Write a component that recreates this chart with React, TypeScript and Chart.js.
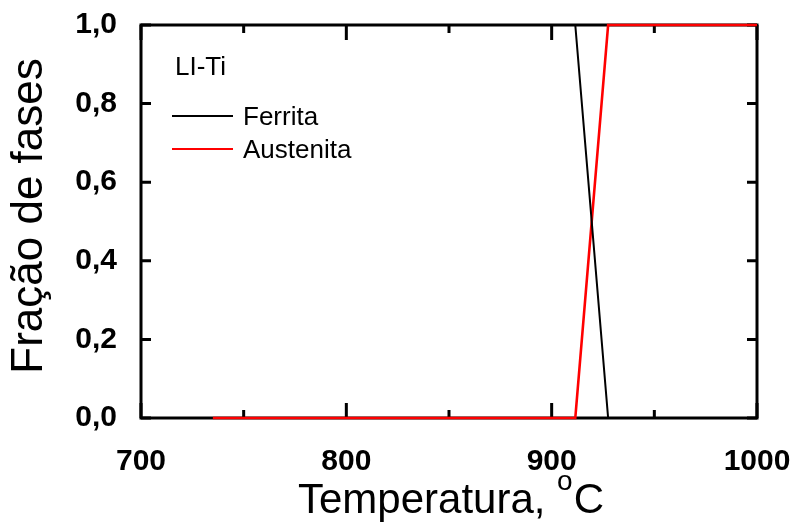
import React, { useEffect, useRef } from "react";
import { Chart, registerables } from "chart.js";

Chart.register(...registerables);

// ---- data ----
const temperatures = [735, 911.5, 927.5, 1000];
const ferrita = [1, 1, 0, 0];
const austenita = [0, 0, 1, 1];
const xMajorTicks = [700, 800, 900, 1000];
const xMinorTicks = [750, 850, 950];
const yMajorTicks = [0, 0.2, 0.4, 0.6, 0.8, 1.0];
const legendTitle = "LI-Ti";
const seriesLabels = ["Ferrita", "Austenita"];
const seriesColors = ["#000000", "#ff0000"];
const seriesWidths = [2, 2.6];
const xTitleMain = "Temperatura, ";
const xTitleSup = "o";
const xTitleUnit = "C";
const yTitle = "Fração de fases";

const FONT = '"Liberation Sans", Arial, Helvetica, sans-serif';

const zeroPad = (s: any) => {
  s.paddingLeft = 0;
  s.paddingRight = 0;
  s.paddingTop = 0;
  s.paddingBottom = 0;
};

const framePlugin = {
  id: "frame",
  beforeDatasetsDraw(chart: any) {
    const { ctx, chartArea: a, scales } = chart;
    const x = scales.x;
    const y = scales.y;
    ctx.save();
    ctx.strokeStyle = "#000";
    ctx.lineWidth = 3;
    ctx.lineJoin = "miter";
    ctx.lineCap = "butt";
    ctx.strokeRect(a.left, a.top, a.right - a.left, a.bottom - a.top);
    ctx.beginPath();
    for (const v of xMajorTicks) {
      const px = x.getPixelForValue(v);
      ctx.moveTo(px, a.bottom);
      ctx.lineTo(px, a.bottom - 15);
      ctx.moveTo(px, a.top);
      ctx.lineTo(px, a.top + 15);
    }
    for (const v of xMinorTicks) {
      const px = x.getPixelForValue(v);
      ctx.moveTo(px, a.bottom);
      ctx.lineTo(px, a.bottom - 8);
      ctx.moveTo(px, a.top);
      ctx.lineTo(px, a.top + 8);
    }
    for (const v of yMajorTicks) {
      const py = y.getPixelForValue(v);
      ctx.moveTo(a.left, py);
      ctx.lineTo(a.left + 10, py);
      ctx.moveTo(a.right, py);
      ctx.lineTo(a.right - 10, py);
    }
    ctx.stroke();
    ctx.restore();
  },
  afterDraw(chart: any) {
    const { ctx } = chart;
    ctx.save();
    ctx.fillStyle = "#000";
    ctx.textBaseline = "alphabetic";
    // x title with superscript
    const mainFont = `42px ${FONT}`;
    const supFont = `28px ${FONT}`;
    ctx.font = mainFont;
    const wMain = ctx.measureText(xTitleMain).width;
    const wUnit = ctx.measureText(xTitleUnit).width;
    ctx.font = supFont;
    const wSup = ctx.measureText(xTitleSup).width;
    const total = wMain + wSup + 1 + wUnit;
    const cx = 451;
    let tx = cx - total / 2;
    const base = 513;
    ctx.font = mainFont;
    ctx.textAlign = "left";
    ctx.fillText(xTitleMain, tx, base);
    tx += wMain;
    ctx.font = supFont;
    ctx.fillText(xTitleSup, tx, base - 23);
    tx += wSup + 1;
    ctx.font = mainFont;
    ctx.fillText(xTitleUnit, tx, base);

    // y title
    ctx.save();
    ctx.translate(42, 216);
    ctx.rotate(-Math.PI / 2);
    ctx.font = `44px ${FONT}`;
    ctx.textAlign = "center";
    ctx.fillText(yTitle, 0, 0);
    ctx.restore();

    // legend
    ctx.font = `26px ${FONT}`;
    ctx.textAlign = "left";
    ctx.fillText(legendTitle, 175, 75);
    const rows = [116, 149];
    chart.data.datasets.forEach((ds: any, i: number) => {
      const ly = rows[i];
      ctx.strokeStyle = ds.borderColor;
      ctx.lineWidth = 2;
      ctx.beginPath();
      ctx.moveTo(172, ly);
      ctx.lineTo(233, ly);
      ctx.stroke();
      ctx.fillText(ds.label, 243, ly + 9);
    });
    ctx.restore();
  },
};

export default function App() {
  const ref = useRef<HTMLCanvasElement | null>(null);
  useEffect(() => {
    if (!ref.current) return;
    const chart = new Chart(ref.current, {
      type: "scatter",
      data: {
        datasets: [
          {
            label: seriesLabels[0],
            data: temperatures.map((t, i) => ({ x: t, y: ferrita[i] })),
            showLine: true,
            borderColor: seriesColors[0],
            backgroundColor: seriesColors[0],
            borderWidth: seriesWidths[0],
            pointRadius: 0,
            tension: 0,
            clip: false as any,
          },
          {
            label: seriesLabels[1],
            data: temperatures.map((t, i) => ({ x: t, y: austenita[i] })),
            showLine: true,
            borderColor: seriesColors[1],
            backgroundColor: seriesColors[1],
            borderWidth: seriesWidths[1],
            pointRadius: 0,
            tension: 0,
            clip: false as any,
          },
        ],
      },
      options: {
        responsive: false,
        animation: false,
        layout: { padding: { top: 25, right: 41, left: 0, bottom: 0 } },
        plugins: {
          legend: { display: false },
          tooltip: { enabled: false },
        },
        scales: {
          x: {
            type: "linear",
            min: 700,
            max: 1000,
            afterBuildTicks: (s: any) => {
              s.ticks = xMajorTicks.map((v) => ({ value: v }));
            },
            afterFit: (s: any) => {
              s.height = 104;
              zeroPad(s);
            },
            ticks: {
              color: "#000",
              padding: 26,
              maxRotation: 0,
              font: { family: FONT, size: 30, weight: "bold" },
              callback: (v: any) => String(v),
            },
            grid: { display: false, drawTicks: false },
            border: { display: false },
          },
          y: {
            type: "linear",
            min: 0,
            max: 1,
            afterBuildTicks: (s: any) => {
              s.ticks = yMajorTicks.map((v) => ({ value: v }));
            },
            afterFit: (s: any) => {
              s.width = 141;
              zeroPad(s);
            },
            ticks: {
              color: "#000",
              padding: 24,
              font: { family: FONT, size: 30, weight: "bold" },
              callback: (v: any) => Number(v).toFixed(1).replace(".", ","),
            },
            grid: { display: false, drawTicks: false },
            border: { display: false },
          },
        },
      },
      plugins: [framePlugin],
    });
    return () => chart.destroy();
  }, []);
  return (
    <div style={{ position: "absolute", left: 0, top: 0, width: 798, height: 522, background: "#fff" }}>
      <canvas ref={ref} width={798} height={522} style={{ display: "block" }} />
    </div>
  );
}
